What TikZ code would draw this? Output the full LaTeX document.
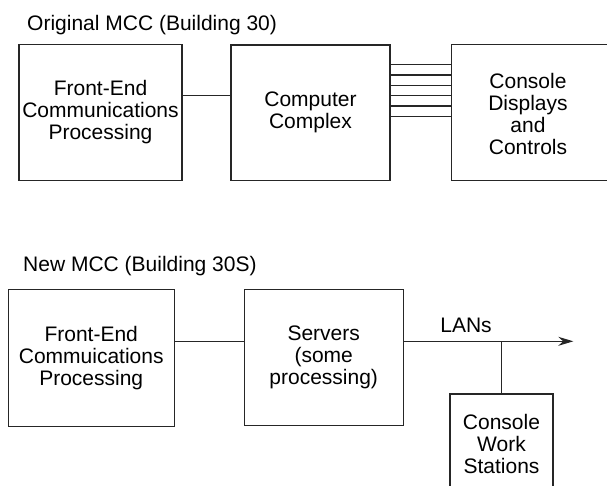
\documentclass[tikz,border=0pt]{standalone}
\usepackage{fontspec}
\setmainfont{Liberation Sans}
\usetikzlibrary{arrows.meta}

\begin{document}
\begin{tikzpicture}[x=1pt,y=-1pt,
  every node/.style={font=\fontsize{21}{22}\selectfont,inner sep=0pt,align=center},
  blk/.style={draw=black!85,line width=1.1pt},
  wire/.style={draw=black!85,line width=1.1pt}]
\useasboundingbox (0,0) rectangle (607,485);
\clip (0,0) rectangle (607,485);
% original MCC
\node[anchor=base west] (ttlold) at (27,30) {Original MCC (Building 30)};
\node[blk,minimum width=163pt,minimum height=136.4pt] (feold) at (100.5,112.5) {Front-End\\Communications\\Processing};
\node[blk,minimum width=159pt,minimum height=135.7pt] (cc) at (310.5,112.8) {Computer\\Complex};
\node[blk,minimum width=200pt,minimum height=136pt,anchor=west] (cdc) at (451,112.4) {};
\node (cdclbl) at (528,114) {Console\\Displays\\and\\Controls};
\draw[wire] (feold.east |- 0,95.7) -- (cc.west |- 0,95.7);
\foreach \y in {64.7,75,85.3,95.7,106,116.3} {
  \draw[wire] (cc.east |- 0,\y) -- (cdc.west |- 0,\y);
}
% new MCC
\node[anchor=base west] (ttlnew) at (23,271.7) {New MCC (Building 30S)};
\node[blk,minimum width=165.7pt,minimum height=137.4pt] (fenew) at (91.2,358) {Front-End\\Commuications\\Processing};
\node[blk,minimum width=159.3pt,minimum height=136pt] (srv) at (323.7,357.3) {Servers\\(some\\processing)};
\node[blk,minimum width=103pt,minimum height=100pt] (cws) at (501.5,444) {Console\\Work\\Stations};
\coordinate (lanend) at (573.3,341.3);
\draw[wire] (fenew.east |- lanend) -- (srv.west |- lanend);
\draw[wire,-{Stealth[length=15pt,width=9pt]}] (srv.east |- lanend) -- (lanend);
\node[anchor=base] (lans) at (466,332.3) {LANs};
\draw[wire] (cws.north) -- (cws.north |- lanend);
\end{tikzpicture}
\end{document}
